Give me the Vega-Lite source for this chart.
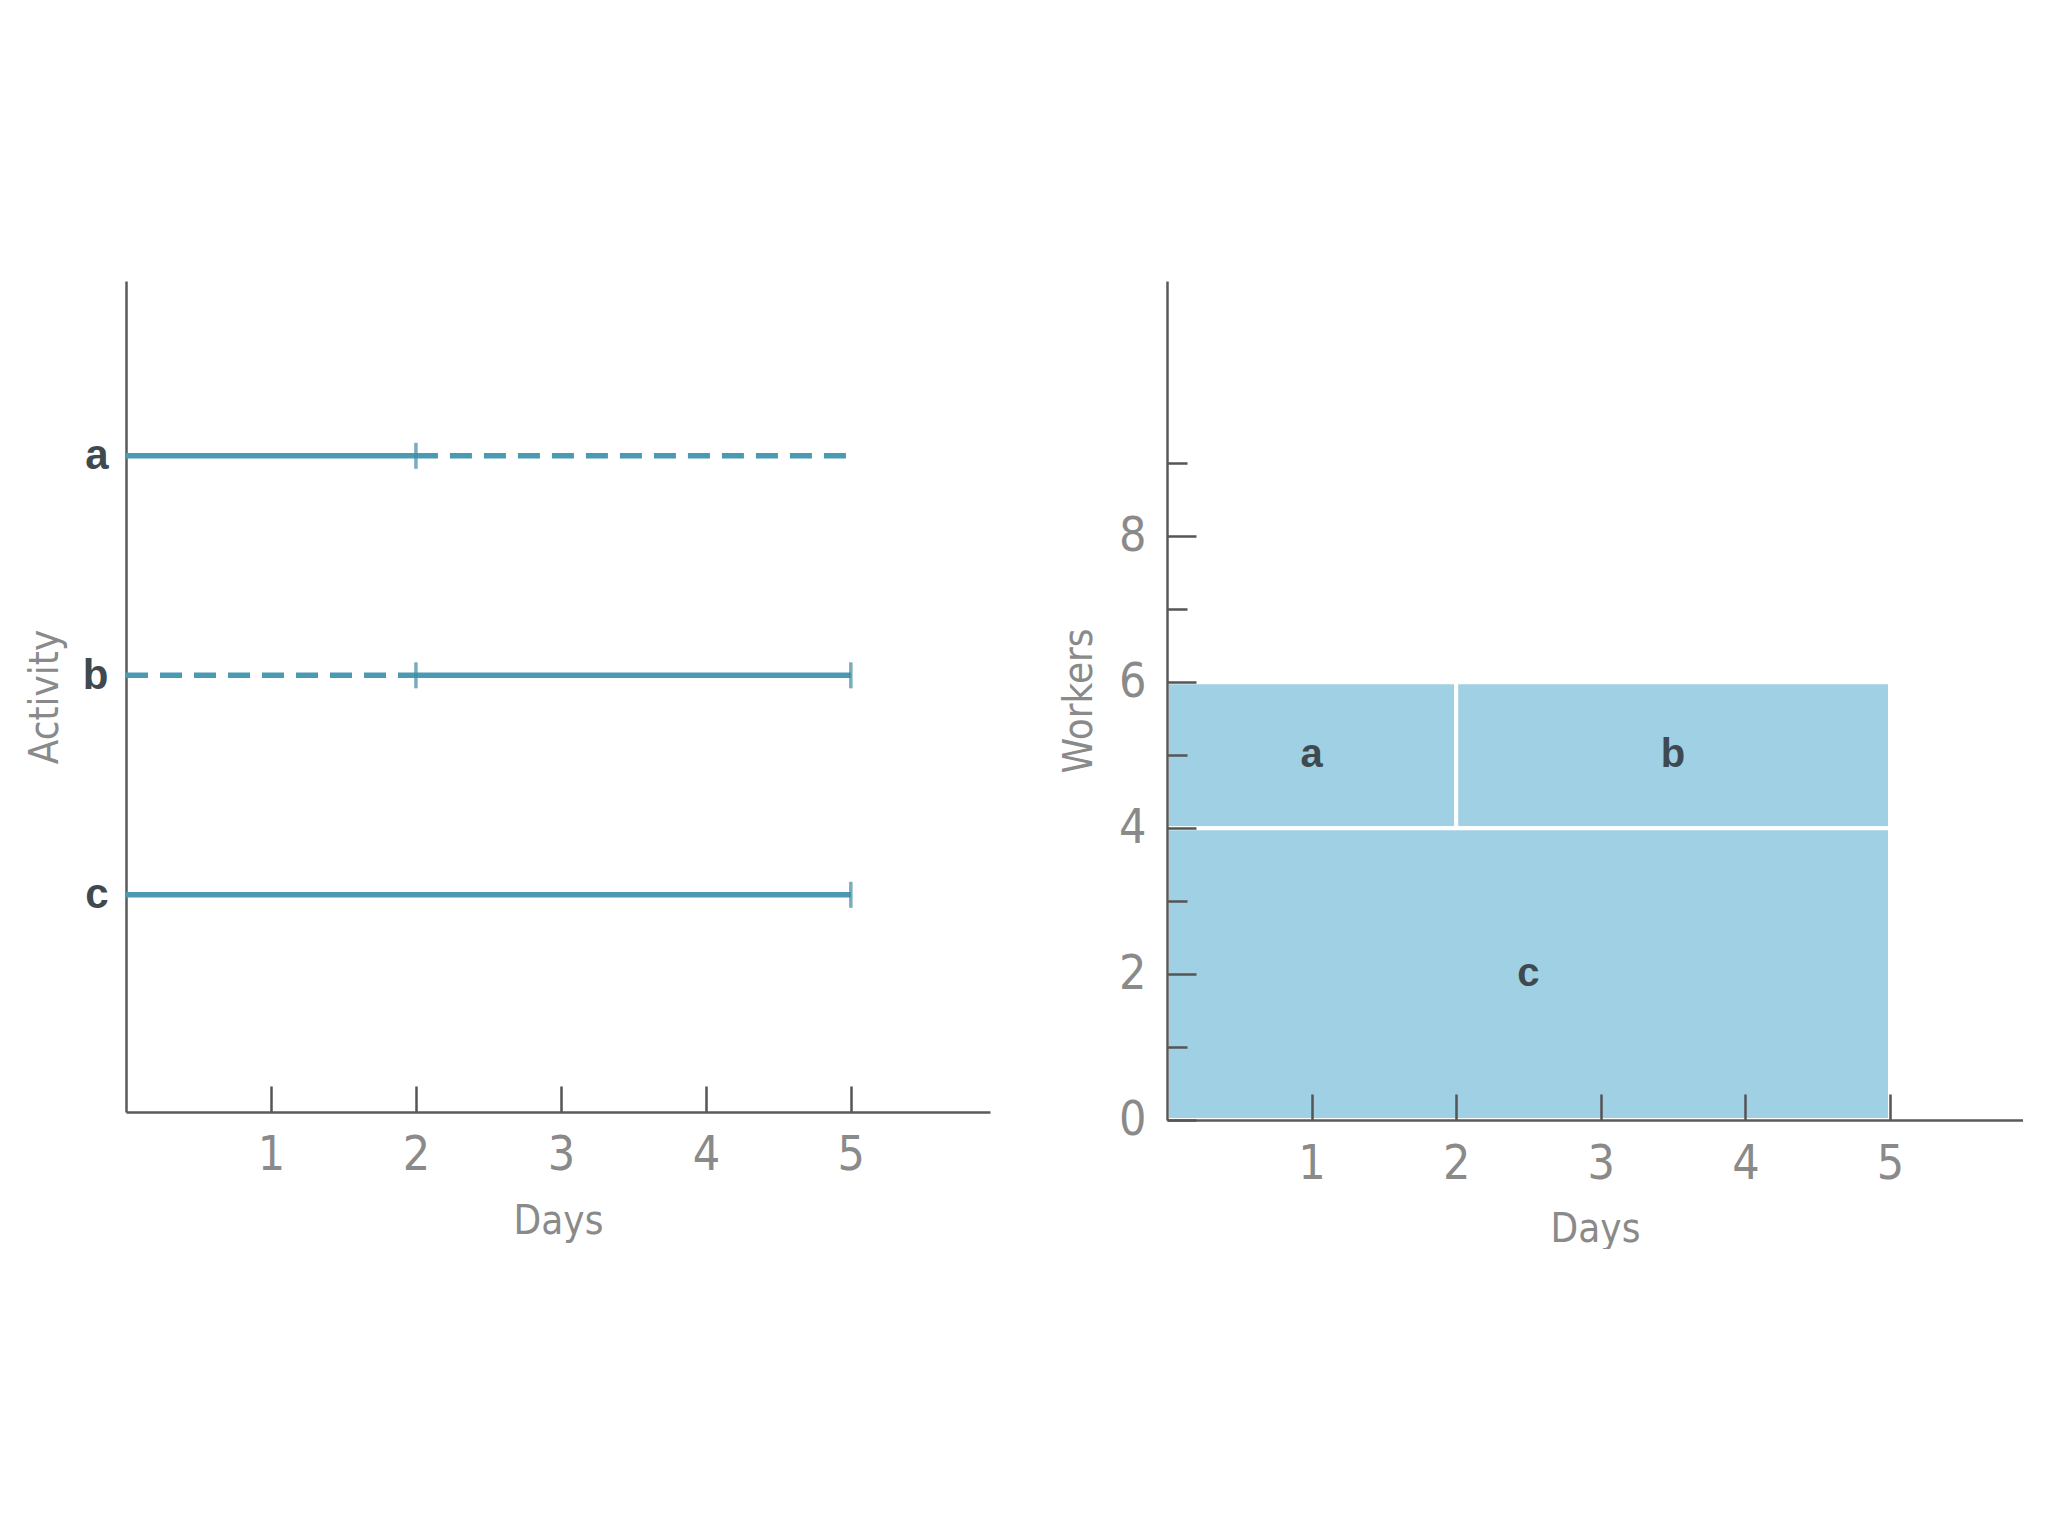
{
  "$schema": "https://vega.github.io/schema/vega-lite/v6.json",
  "autosize": {"type": "pad"},
  "padding": {"left": 25, "top": 281, "right": 0, "bottom": 0},
  "background": "white",
  "bounds": "flush",
  "spacing": 177,
  "config": {
    "view": {"stroke": null},
    "font": "DejaVu Sans Condensed, Liberation Sans, sans-serif",
    "axis": {
      "domainColor": "#5a5a5a",
      "domainWidth": 2.5,
      "tickColor": "#555555",
      "tickWidth": 2.5,
      "labelColor": "#8a8a8a",
      "labelFont": "DejaVu Sans Condensed, Liberation Sans, sans-serif",
      "titleFont": "DejaVu Sans Condensed, Liberation Sans, sans-serif",
      "titleColor": "#8a8a8a",
      "titleFontWeight": "normal",
      "titleFontSize": 40,
      "grid": false,
      "labelFlush": false,
      "labelOverlap": false
    }
  },
  "hconcat": [
    {
      "width": 864,
      "height": 831,
      "layer": [
        {
          "data": {"values": [
            {"activity": "a", "start": 0, "end": 2, "status": "scheduled"},
            {"activity": "a", "start": 2, "end": 5, "status": "slack"},
            {"activity": "b", "start": 0, "end": 2, "status": "slack"},
            {"activity": "b", "start": 2, "end": 5, "status": "scheduled"},
            {"activity": "c", "start": 0, "end": 5, "status": "scheduled"}
          ]},
          "mark": {"type": "rule", "strokeWidth": 5.5, "color": "#4b9ab3"},
          "encoding": {
            "x": {"field": "start", "type": "quantitative",
              "scale": {"domain": [0, 5.96], "nice": false, "zero": false},
              "axis": {"values": [1, 2, 3, 4, 5], "format": "d", "tickSize": -26, "labelFontSize": 48, "labelPadding": 45, "title": "Days", "titlePadding": 22}},
            "x2": {"field": "end"},
            "y": {"field": "activity", "type": "nominal",
              "scale": {"type": "point", "padding": 0.893, "align": 0.446},
              "axis": {"ticks": false, "labelFont": "Liberation Sans", "labelFontWeight": "bold", "labelFontSize": 42, "labelColor": "#3e4a50", "labelPadding": 18, "title": "Activity", "titlePadding": 17}},
            "strokeDash": {"field": "status", "type": "nominal",
              "scale": {"domain": ["scheduled", "slack"], "range": [[1, 0], [22, 12]]},
              "legend": null}
          }
        },
        {
          "data": {"values": [
            {"activity": "a", "day": 2},
            {"activity": "b", "day": 2},
            {"activity": "b", "day": 5},
            {"activity": "c", "day": 5}
          ]},
          "mark": {"type": "tick", "orient": "vertical", "size": 26, "thickness": 3.5, "color": "#3f8aa3"},
          "encoding": {
            "x": {"field": "day", "type": "quantitative"},
            "y": {"field": "activity", "type": "nominal"}
          }
        }
      ]
    },
    {
      "width": 856,
      "height": 839,
      "data": {"values": [
        {"task": "a", "dayStart": 0, "dayEnd": 2, "workersLow": 4, "workersHigh": 6},
        {"task": "b", "dayStart": 2, "dayEnd": 5, "workersLow": 4, "workersHigh": 6},
        {"task": "c", "dayStart": 0, "dayEnd": 5, "workersLow": 0, "workersHigh": 4}
      ]},
      "layer": [
        {
          "mark": {"type": "rect", "fill": "#a0d0e3", "stroke": "white", "strokeWidth": 4},
          "encoding": {
            "x": {"field": "dayStart", "type": "quantitative",
              "scale": {"domain": [0, 5.92], "nice": false, "zero": false},
              "axis": {"values": [1, 2, 3, 4, 5], "format": "d", "tickSize": -26, "labelFontSize": 48, "labelPadding": 46, "title": "Days", "titlePadding": 21, "zindex": 1}},
            "x2": {"field": "dayEnd"},
            "y": {"field": "workersLow", "type": "quantitative",
              "scale": {"domain": [0, 11.5], "nice": false},
              "axis": {"values": [0, 1, 2, 3, 4, 5, 6, 7, 8, 9], "format": "d", "labelExpr": "datum.value % 2 === 0 ? datum.label : ''",
                "tickSize": {"condition": {"test": "datum.value % 2 === 1", "value": -20}, "value": -29},
                "labelFontSize": 48, "labelPadding": 50, "title": "Workers", "titlePadding": 19, "zindex": 1}},
            "y2": {"field": "workersHigh"}
          }
        },
        {
          "transform": [
            {"calculate": "(datum.dayStart + datum.dayEnd) / 2", "as": "dayMid"},
            {"calculate": "(datum.workersLow + datum.workersHigh) / 2", "as": "workersMid"}
          ],
          "mark": {"type": "text", "font": "Liberation Sans", "fontWeight": "bold", "fontSize": 40, "color": "#3e4a50", "baseline": "middle", "align": "center"},
          "encoding": {
            "x": {"field": "dayMid", "type": "quantitative"},
            "y": {"field": "workersMid", "type": "quantitative"},
            "text": {"field": "task"}
          }
        }
      ]
    }
  ]
}
